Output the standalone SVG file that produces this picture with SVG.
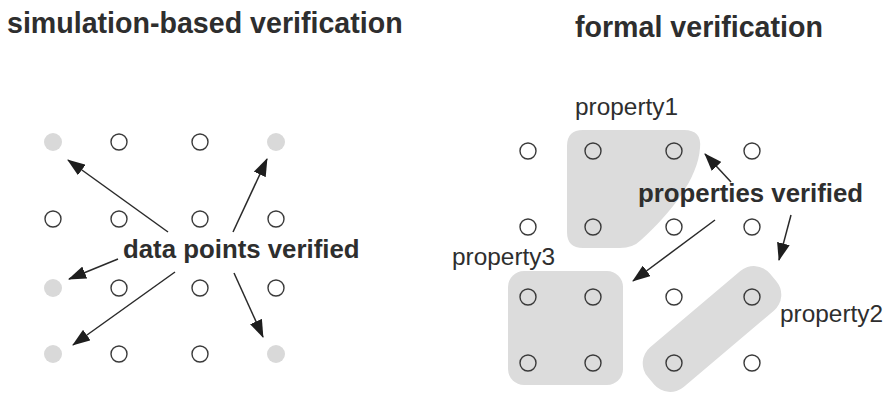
<svg xmlns="http://www.w3.org/2000/svg" width="892" height="393" viewBox="0 0 892 393">
  <style>
    .title { font-family: "Liberation Sans", Arial, sans-serif; font-weight: bold; font-size: 28.6px; fill: #2e2e2e; }
    .callout { font-family: "Liberation Sans", Arial, sans-serif; font-weight: bold; font-size: 25.8px; fill: #2e2e2e; }
    .label { font-family: "Liberation Sans", Arial, sans-serif; font-size: 24.4px; fill: #2e2e2e; }
    .pt { fill: none; stroke: #3a3a3a; stroke-width: 1.4; }
    .hit { fill: #d9d9d9; stroke: none; }
    .region { fill: #dcdcdc; stroke: none; }
    .arrow { stroke: #2a2a2a; stroke-width: 1.5; fill: none; marker-end: url(#head); }
  </style>
  <defs>
    <marker id="head" viewBox="0 0 18 13" refX="17" refY="6.5" markerWidth="18" markerHeight="13" markerUnits="userSpaceOnUse" orient="auto">
      <path d="M0,0 L18,6.5 L0,13 Z" fill="#1e1e1e"/>
    </marker>
  </defs>
  <rect width="892" height="393" fill="#ffffff"/>

  <!-- headings -->
  <text id="title-sim" class="title" x="7" y="33">simulation-based verification</text>
  <text id="title-formal" class="title" x="575" y="37">formal verification</text>

  <!-- property regions (drawn under the points) -->
  <g id="property1">
    <path class="region" d="M567,146 Q567,130 583,130 L684,130 Q702,130 700,148 C698,178 672,212 641,240 Q633,248 620,248 L583,248 Q567,248 567,232 Z"/>
    <text class="label" x="575" y="115">property1</text>
  </g>
  <g id="property3">
    <rect class="region" x="508" y="271" width="115" height="114" rx="16"/>
    <text class="label" x="452" y="265">property3</text>
  </g>
  <g id="property2">
    <rect class="region" x="-80" y="-26" width="160" height="52" rx="21" transform="translate(712,329) rotate(-40.2)"/>
    <text class="label" x="780" y="322">property2</text>
  </g>

  <!-- simulation grid: grey dots are the points covered by simulation -->
  <g id="sim-points">
    <circle class="hit" cx="53" cy="142" r="9"/>
    <circle class="pt" cx="119" cy="142" r="8"/>
    <circle class="pt" cx="200" cy="142" r="8"/>
    <circle class="hit" cx="276" cy="142" r="9"/>

    <circle class="pt" cx="53" cy="219" r="8"/>
    <circle class="pt" cx="119" cy="219" r="8"/>
    <circle class="pt" cx="200" cy="219" r="8"/>
    <circle class="pt" cx="276" cy="219" r="8"/>

    <circle class="hit" cx="53" cy="288" r="9"/>
    <circle class="pt" cx="119" cy="288" r="8"/>
    <circle class="pt" cx="200" cy="288" r="8"/>
    <circle class="pt" cx="276" cy="288" r="8"/>

    <circle class="hit" cx="53" cy="354" r="9"/>
    <circle class="pt" cx="119" cy="354" r="8"/>
    <circle class="pt" cx="200" cy="354" r="8"/>
    <circle class="hit" cx="276" cy="354" r="9"/>
  </g>

  <!-- formal grid -->
  <g id="formal-points">
    <circle class="pt" cx="528" cy="151" r="8"/>
    <circle class="pt" cx="593" cy="151" r="8"/>
    <circle class="pt" cx="674" cy="151" r="8"/>
    <circle class="pt" cx="752" cy="151" r="8"/>

    <circle class="pt" cx="528" cy="227" r="8"/>
    <circle class="pt" cx="593" cy="227" r="8"/>
    <circle class="pt" cx="674" cy="227" r="8"/>
    <circle class="pt" cx="752" cy="227" r="8"/>

    <circle class="pt" cx="528" cy="297" r="8"/>
    <circle class="pt" cx="593" cy="297" r="8"/>
    <circle class="pt" cx="674" cy="297" r="8"/>
    <circle class="pt" cx="752" cy="297" r="8"/>

    <circle class="pt" cx="528" cy="363" r="8"/>
    <circle class="pt" cx="593" cy="363" r="8"/>
    <circle class="pt" cx="674" cy="363" r="8"/>
    <circle class="pt" cx="752" cy="363" r="8"/>
  </g>

  <!-- callout texts -->
  <g id="data-points-verified">
    <text class="callout" x="123" y="258">data points verified</text>
  </g>
  <g id="properties-verified">
    <text class="callout" x="638" y="202">properties verified</text>
  </g>

  <!-- connectors -->
  <g id="connectors">
    <line class="arrow" x1="168" y1="232" x2="68" y2="160"/>
    <line class="arrow" x1="233" y1="232" x2="267" y2="159"/>
    <line class="arrow" x1="118" y1="259" x2="69" y2="279"/>
    <line class="arrow" x1="175" y1="272" x2="73" y2="345"/>
    <line class="arrow" x1="234" y1="273" x2="263" y2="337"/>

    <line class="arrow" x1="731" y1="182" x2="705" y2="154"/>
    <line class="arrow" x1="715" y1="220" x2="633" y2="281"/>
    <line class="arrow" x1="791" y1="215" x2="779" y2="260"/>
  </g>
</svg>
